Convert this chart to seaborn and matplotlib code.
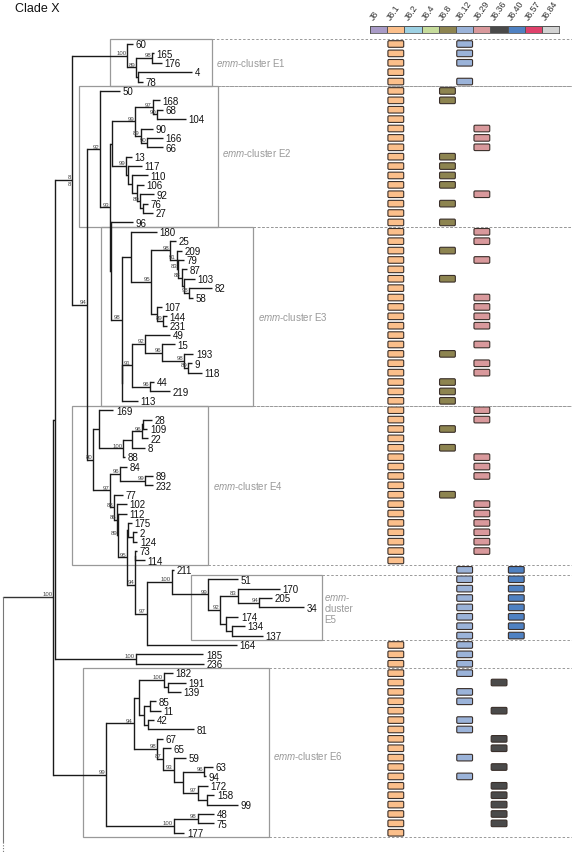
import matplotlib
matplotlib.use("Agg")
import matplotlib.pyplot as plt
import numpy as np
import seaborn as sns
from matplotlib.colors import ListedColormap
from matplotlib.patches import FancyBboxPatch, Rectangle

# ---- tree data (newick, branch lengths) ----
CLADE_E1 = "(60:6,((165:2,176:10)98:16,(4:54,78:5):2)89:9)100"
CLADE_E2 = ("(((168:7.3,(68:5.7,104:28.7)90:4.6)97:17.7,(90:12,(166:15.4,66:15.4)90:6.6)89:5.7)99:22.7,"
            "(13:5.7,(117:13.4,(110:16.3,(106:7.3,(92:14,(76:4.7,27:9.4):3.3)89:3.3):5):3.4):2.3)99:13.7)")
CLADE_E3 = ("((180:25.7,((25:6,(209:5,(79:6,(87:5,(103:11,(82:22.4,58:4)98:5.3):2.3)88:3.7)83:1.3)91:6.7)98:19.3,"
            "(107:4.4,(144:3.4,231:3.4)89:6):6.6)95:19.7):9.3,(((49:25,(15:13.3,(193:9.3,(9:3.4,118:13.4)89:4.3)98:22.3)96:16.7)92:13.3,"
            "(44:4,219:20)96:18.3)91:10,113:16.3):0)98")
CLADE_E5 = ("((211:2.3,(51:30,((170:42.3,(205:12.4,34:44.7)94:21.6)83:17.7,"
            "(174:12.3,(134:13.3,137:31):5.7):6)92:11.7)99:36.6)100:25,164:90)97")
CLADE_E4 = ("((169:14,((((28:8.4,109:4):1.6,22:6.6)96:10,8:13.3):8.4,88:1.7)100:24):6,"
            "((84:6.7,(89:8.3,232:8.3)99:25)96:10,(77:9,(102:9.4,(112:8.4,((175:4.2,(2:4.6,124:4.6):5.2):0.8,"
            "((73:1.4,114:9.7):0.3," + CLADE_E5 + ":11.7)94:8.3)95:8.4)89:1)86:3)88:4.3)97:16.7)80")
CLADE_E6 = ("((((182:9,(191:18.3,139:13.3):4)100:24.4,((85:5.7,11:10.7):6.6,(42:6,81:46):4.6):4.4):5.6,"
            "(67:5.7,(65:8.3,(59:12.3,((63:8.4,94:1.7)96:21.6,(172:10,(158:7.3,99:30.7):9.3)97:15):9)93:11)87:5.7)98:23.3)94:27.7,"
            "((48:16.6,75:16.6)98:24,177:10.6)100:67.7)99")
CLADE_B = "((50:20,(" + CLADE_E2 + ":2.3,(96:22.8," + CLADE_E3 + ":11.2):0.5)93:10)92:12.7," + CLADE_E4 + ":6)94"
TREE = ("(((" + CLADE_E1 + ":55," + CLADE_B + ":15.3)8/8:17,(185:67.6,236:68.3)100:80.7):1.7,"
        + CLADE_E6 + ":52.7)100:50;")

# ---- emm pattern / J-type data ----
J_TYPES = ["J8", "J8.1", "J8.2", "J8.4", "J8.8", "J8.12", "J8.29", "J8.36", "J8.40", "J8.57", "J8.84"]
J_COLORS = ["#a99bc7", "#fbbf8b", "#9dd1e3", "#c6dc9c", "#8d8450", "#9bb3d9",
            "#d9999c", "#4a4a4a", "#4f81c2", "#df416b", "#d3d3d3"]
J8_1_MISSING = ["211", "51", "170", "205", "34", "174", "134", "137"]
J8_8 = ["50", "168", "13", "117", "110", "106", "76", "96", "209", "103", "193",
        "44", "219", "113", "109", "8", "77"]
J8_12 = ["60", "165", "176", "78", "211", "51", "170", "205", "34", "174", "134", "137",
         "164", "185", "236", "182", "139", "85", "42", "81", "59", "94"]
J8_29 = ["90", "166", "66", "92", "180", "25", "79", "58", "107", "144", "231", "15", "9",
         "118", "169", "28", "88", "84", "89", "102", "112", "175", "2", "124", "73"]
J8_36 = ["191", "11", "67", "65", "63", "172", "158", "99", "48", "75"]
J8_40 = ["211", "51", "170", "205", "34", "174", "134", "137"]

CLUSTERS = ["E1", "E2", "E3", "E4", "E5", "E6"]
CLUSTER_FIRST = ["60", "50", "180", "169", "51", "182"]
CLUSTER_LAST = ["78", "96", "113", "114", "137", "177"]

# ---- layout (pixel space) ----
Y0, ROW = 45.0, 9.39
ROOT_X = 3.3
BOX_X = {"E1": (110, 212), "E2": (79, 218), "E3": (100.7, 253.3),
         "E4": (71.7, 208.3), "E5": (190.7, 321.7), "E6": (82.7, 269.3)}
LABEL_XY = {"E1": (216, 62.5), "E2": (222, 152.5), "E3": (258, 316.5),
            "E4": (213, 486.5), "E6": (273, 756.5)}
COL_X0, COL_W = 370.0, 17.21
LINE = "#1a1a1a"
GREY = "#999999"
LW = 1.0


def parse_newick(s):
    pos = 0

    def node():
        nonlocal pos
        children = []
        if s[pos] == "(":
            pos += 1
            while True:
                children.append(node())
                if s[pos] == ",":
                    pos += 1
                    continue
                pos += 1
                break
        start = pos
        while s[pos] not in ":,);":
            pos += 1
        name = s[start:pos]
        length = 0.0
        if s[pos] == ":":
            pos += 1
            start = pos
            while s[pos] not in ",);":
                pos += 1
            length = float(s[start:pos])
        return {"name": name, "len": length, "children": children}

    return node()


def layout(node, x0, leaves):
    node["x"] = x0 + node["len"]
    if not node["children"]:
        node["y"] = Y0 + ROW * len(leaves)
        leaves.append(node)
        return
    for c in node["children"]:
        layout(c, node["x"], leaves)
    node["y"] = (node["children"][0]["y"] + node["children"][-1]["y"]) / 2


def draw(node, ax):
    kids = node["children"]
    if not kids:
        ax.text(node["x"] + 2.6, node["y"] + 0.3, node["name"], fontsize=7, va="center",
                ha="left", color="#111111")
        return
    ax.plot([node["x"], node["x"]], [kids[0]["y"], kids[-1]["y"]], color=LINE, lw=LW,
            solid_capstyle="projecting")
    for c in kids:
        ax.plot([node["x"], c["x"]], [c["y"], c["y"]], color=LINE, lw=LW, solid_capstyle="butt")
        draw(c, ax)


def draw_support(node, ax):
    for c in node["children"]:
        draw_support(c, ax)
    if node["children"] and node["name"]:
        parts = node["name"].split("/")
        ax.text(node["x"] - 0.8, node["y"] - 0.7, parts[0], fontsize=4.3, color="#444444",
                ha="right", va="bottom")
        if len(parts) > 1:
            ax.text(node["x"] - 0.8, node["y"] + 0.9, parts[1], fontsize=4.3, color="#444444",
                    ha="right", va="top")


sns.set_theme(style="white")
plt.rcParams["font.family"] = ["Liberation Sans", "DejaVu Sans"]
plt.rcParams["mathtext.fontset"] = "custom"
plt.rcParams["mathtext.it"] = "Liberation Sans:italic"
plt.rcParams["mathtext.rm"] = "Liberation Sans"

fig = plt.figure(figsize=(5.72, 8.53), dpi=100)
ax = fig.add_axes([0, 0, 1, 1])
ax.set_xlim(0, 572)
ax.set_ylim(853, 0)
ax.axis("off")

root = parse_newick(TREE)
leaves = []
layout(root, ROOT_X, leaves)
ypos = {lf["name"]: lf["y"] for lf in leaves}

# root stub, its long grey stem and dotted continuation
ax.plot([ROOT_X, root["x"]], [root["y"], root["y"]], color="#333333", lw=LW)
ax.plot([ROOT_X, ROOT_X], [root["y"], 843], color="#777777", lw=0.8)
ax.plot([ROOT_X, ROOT_X], [843, 853], color="#777777", lw=0.8, ls=(0, (1, 1.5)))
draw(root, ax)
draw_support(root, ax)

# cluster boxes, dashed guides and labels
for name, first, last in zip(CLUSTERS, CLUSTER_FIRST, CLUSTER_LAST):
    x0, x1 = BOX_X[name]
    top, bot = ypos[first] - ROW / 2, ypos[last] + ROW / 2
    ax.add_patch(Rectangle((x0, top), x1 - x0, bot - top, fill=False, ec=GREY, lw=0.9))
    for yy in (top, bot):
        ax.plot([x1, 572], [yy, yy], color=GREY, lw=0.7, ls=(0, (2.5, 2)))
    if name in LABEL_XY:
        lx, ly = LABEL_XY[name]
        ax.text(lx, ly, r"$\mathit{emm}$-cluster " + name, fontsize=7, color=GREY, va="center")
    else:
        lx = x1 + 2.5
        for k, line in enumerate([r"$\mathit{emm}$-", "cluster", name]):
            ax.text(lx, ypos[first] + 17.5 + 11.2 * k, line, fontsize=7, color=GREY, va="center")

# J-type presence boxes
presence = {
    "J8.1": [lf["name"] for lf in leaves if lf["name"] not in J8_1_MISSING],
    "J8.8": J8_8, "J8.12": J8_12, "J8.29": J8_29, "J8.36": J8_36, "J8.40": J8_40,
}
for j, (jt, col) in enumerate(zip(J_TYPES, J_COLORS)):
    cx = COL_X0 + COL_W * (j + 0.5)
    for leaf in presence.get(jt, []):
        ax.add_patch(FancyBboxPatch((cx - 7.9, ypos[leaf] - 3.3), 15.8, 6.6,
                                    boxstyle="round,pad=0,rounding_size=1.2",
                                    fc=col, ec="#3a2f2a", lw=0.8))
    ax.text(cx - 2.8, 22.5, jt, rotation=55, rotation_mode="anchor", fontsize=6.3,
            color="#333333", ha="left", va="bottom")

# colour key row via seaborn heatmap
hax = fig.add_axes([COL_X0 / 572, 1 - 34.2 / 853, COL_W * 11 / 572, 7.4 / 853])
sns.heatmap(np.arange(len(J_TYPES)).reshape(1, -1), cmap=ListedColormap(J_COLORS),
            cbar=False, linewidths=0.6, linecolor="#555555",
            xticklabels=False, yticklabels=False, ax=hax)
for sp in hax.spines.values():
    sp.set_visible(True)
    sp.set_color("#555555")
    sp.set_linewidth(0.6)

ax.text(15, 9, "Clade X", fontsize=9, va="center", ha="left", color="#111111")

fig.savefig("out.png", dpi=100)
